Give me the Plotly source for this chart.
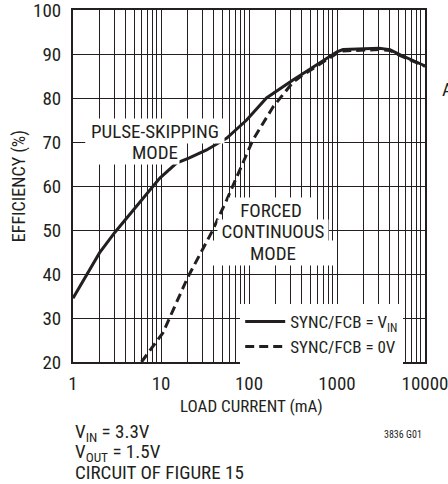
import plotly.graph_objects as go

# Data
load_ma_pulse = [1, 2, 3, 6, 9.7, 15, 21, 33, 56, 94, 158, 316, 640, 1000, 1170, 2000, 3000, 4000, 5240, 9500, 10000]
eff_pulse = [34.5, 44.8, 49.5, 56.8, 61.8, 65.2, 66.4, 68.2, 70.9, 75.0, 80.0, 84.1, 88.0, 90.5, 91.0, 91.2, 91.3, 91.0, 89.8, 87.5, 87.3]

load_ma_forced = [6.0, 10.5, 20.2, 37.7, 55.7, 65, 111, 188, 316, 400, 640, 1000, 1170, 2000, 3000, 4000, 5240, 9500, 10000]
eff_forced = [20.0, 26.6, 39.3, 49.5, 56.8, 59.8, 70.5, 78.0, 83.6, 85.1, 87.8, 90.2, 90.7, 90.9, 91.0, 90.8, 89.6, 87.4, 87.2]

x_tickvals = [1, 10, 100, 1000, 10000]
x_ticktext = ["1", "10", "100", "1000", "10000"]
y_tickvals = [20, 30, 40, 50, 60, 70, 80, 90, 100]

FONT = "Liberation Sans Narrow, Roboto Condensed, Arial Narrow, Liberation Sans, sans-serif"
INK = "#231f20"

fig = go.Figure()
fig.add_trace(go.Scatter(
    x=load_ma_pulse, y=eff_pulse, mode="lines",
    line=dict(color=INK, width=3), name="SYNC/FCB = V<sub>IN</sub>"))
fig.add_trace(go.Scatter(
    x=load_ma_forced, y=eff_forced, mode="lines",
    line=dict(color=INK, width=3, dash="9px,5px"), name="SYNC/FCB = 0V"))

fig.update_layout(
    width=448, height=484,
    margin=dict(l=73, r=23, t=10, b=122, autoexpand=False),
    paper_bgcolor="white", plot_bgcolor="white",
    font=dict(family=FONT, size=19, color=INK),
    showlegend=True,
    legend=dict(x=0.475, y=0.165, xanchor="left", yanchor="top",
                bgcolor="white", borderwidth=0,
                font=dict(size=17), tracegroupgap=0, itemwidth=40),
)
fig.update_xaxes(
    type="log", range=[0, 4], tickvals=x_tickvals, ticktext=x_ticktext,
    showgrid=True, gridcolor=INK, gridwidth=1,
    minor=dict(dtick="D1", showgrid=True, gridcolor=INK, gridwidth=1, ticks=""),
    showline=True, mirror=True, linecolor=INK, linewidth=2,
    ticks="", ticklabelstandoff=3, zeroline=False, automargin=False,
    ticklabeloverflow="allow",
)
fig.update_yaxes(
    range=[20, 100], tickvals=y_tickvals,
    showgrid=True, gridcolor=INK, gridwidth=1,
    showline=True, mirror=True, linecolor=INK, linewidth=2,
    ticks="", ticklabelstandoff=6, zeroline=False, automargin=False,
    ticklabeloverflow="allow",
)

def note(text, x, y, size=19, xanchor="center", **kw):
    return dict(text=text, x=x, y=y, xref="paper", yref="paper", xanchor=xanchor,
                yanchor="middle", showarrow=False, font=dict(size=size), **kw)

ann = [
    # in-plot labels, one per row, each on a white panel that stops short of the curves
    note("PULSE-SKIPPING", 0.233, 0.656, bgcolor="white", width=136, height=22),
    note("MODE", 0.169, 0.595, bgcolor="white", width=91, height=21, align="right"),
    note("FORCED", 0.5625, 0.432, bgcolor="white", width=82, height=22),
    note("CONTINUOUS", 0.568, 0.371, bgcolor="white", width=108, height=21),
    note("MODE", 0.568, 0.310, bgcolor="white", width=120, height=22),
    note("EFFICIENCY (%)", -0.153, 0.5, size=18, textangle=-90),
    note("LOAD CURRENT (mA)", 0.508, -0.124, size=17),
    note("V<sub>IN</sub> = 3.3V", 0.0, -0.199, xanchor="left"),
    note("V<sub>OUT</sub> = 1.5V", 0.0, -0.256, xanchor="left"),
    note("CIRCUIT OF FIGURE 15", 0.0, -0.3125, xanchor="left"),
    note("3836 G01", 0.9375, -0.207, size=10),
    note("A", 1.043, 0.773, xanchor="left"),
]
fig.update_layout(annotations=ann)

fig.write_html("out.html", config={"displayModeBar": False},
               post_script="document.body.style.margin='0px';")
